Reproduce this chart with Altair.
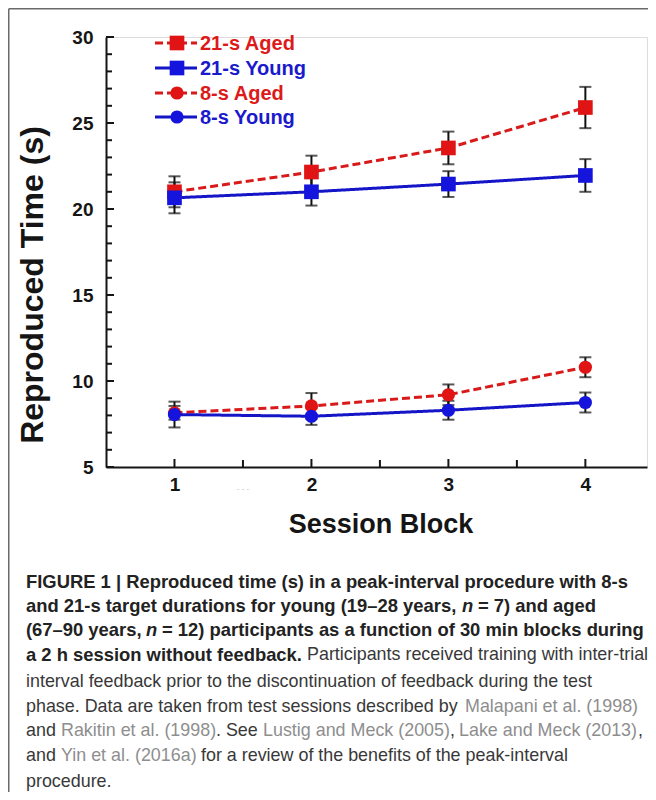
import altair as alt
import pandas as pd

# ---------------- data ----------------
blocks = [1, 2, 3, 4]
aged21 = [21.0, 22.15, 23.55, 25.9]
aged21_err = [0.9, 0.95, 0.95, 1.2]
young21 = [20.65, 21.0, 21.45, 21.95]
young21_err = [0.9, 0.8, 0.75, 0.95]
aged8 = [8.15, 8.55, 9.2, 10.8]
aged8_err = [0.4, 0.75, 0.6, 0.58]
young8 = [8.05, 7.95, 8.3, 8.75]
young8_err = [0.75, 0.5, 0.55, 0.58]

series_names = ["21-s Aged", "21-s Young", "8-s Aged", "8-s Young"]
series_values = [aged21, young21, aged8, young8]
series_errors = [aged21_err, young21_err, aged8_err, young8_err]

y_major = [5, 10, 15, 20, 25, 30]
y_minor = [6, 7, 8, 9, 11, 12, 13, 14, 16, 17, 18, 19, 21, 22, 23, 24, 26, 27, 28, 29]
x_major = [1, 2, 3, 4]
x_minor = [1.5, 2.5, 3.5]

x_title = "Session Block"
y_title = "Reproduced Time (s)"

caption_lines = [
    [("FIGURE 1 | Reproduced time (s) in a peak-interval procedure with 8-s", "b")],
    [("and 21-s target durations for young (19–28 years,", "b"), ("n", "bi"), ("= 7) and aged", "b")],
    [("(67–90 years,", "b"), ("n", "bi"), ("= 12) participants as a function of 30 min blocks during", "b")],
    [("a 2 h session without feedback.", "b"), ("Participants received training with inter-trial", "r")],
    [("interval feedback prior to the discontinuation of feedback during the test", "r")],
    [("phase. Data are taken from test sessions described by", "r"), ("Malapani et al. (1998)", "l")],
    [("and", "r"), ("Rakitin et al. (1998)", "l"), (". See", "r"), ("Lustig and Meck (2005)", "l"),
     (",", "r"), ("Lake and Meck (2013)", "l"), (",", "r")],
    [("and", "r"), ("Yin et al. (2016a)", "l"), ("for a review of the benefits of the peak-interval", "r")],
    [("procedure.", "r")],
]

# ---------------- layout / style ----------------
W, H = 541, 430
PAD = {"left": 98, "top": 29, "right": 1, "bottom": 325}
OX, OY = 106, 37  # page position of plot origin

caption_y = [582, 606, 630, 655, 682, 707, 731, 756, 782]
caption_x = [
    [26],
    [26, 462, 478],
    [26, 146, 162],
    [26, 307],
    [26],
    [26, 465],
    [26, 61, 216, 263, 450, 459, 638],
    [26, 61, 201],
    [26],
]

styles = {
    "21-s Aged": dict(color="#e01414", line="#d81a1a", shape="square", dash=[8, 4], size=215),
    "21-s Young": dict(color="#1414dd", line="#1515c8", shape="square", dash=[1, 0], size=215),
    "8-s Aged": dict(color="#e01414", line="#d81a1a", shape="circle", dash=[8, 4], size=175),
    "8-s Young": dict(color="#1414dd", line="#1515c8", shape="circle", dash=[1, 0], size=175),
}
legend_text_color = {"21-s Aged": "#dd1a1a", "21-s Young": "#1a1acc", "8-s Aged": "#dd1a1a", "8-s Young": "#1a1acc"}

FONT = "Liberation Sans"

xs = alt.Scale(domain=[0.5, 4.45], nice=False, zero=False)
ys = alt.Scale(domain=[5, 30], nice=False, zero=False)

y_axis = alt.Axis(values=y_major, title=None, ticks=False, tickSize=0, grid=False, domain=True,
                  domainColor="#151515", domainWidth=2, labelFont=FONT, labelFontWeight="bold",
                  labelFontSize=19, labelColor="#151515", labelPadding=13, labelOverlap=False)
x_axis = alt.Axis(values=x_major, title=None, ticks=False, tickSize=0, grid=False, domain=True,
                  domainColor="#151515", domainWidth=2, labelFont=FONT, labelFontWeight="bold",
                  labelFontSize=19, labelColor="#151515", labelPadding=8, labelFlush=False,
                  labelOverlap=False, format="d")


def X(field):
    return alt.X(field, scale=xs, axis=x_axis)


def Y(field):
    return alt.Y(field, scale=ys, axis=y_axis)


rows = []
for name, vals, errs in zip(series_names, series_values, series_errors):
    for b, v, e in zip(blocks, vals, errs):
        rows.append({"series": name, "block": b, "value": v, "lo": v - e, "hi": v + e})
df = pd.DataFrame(rows)

layers = []

# inward ticks
layers.append(alt.Chart(pd.DataFrame({"v": y_major})).mark_rule(color="#151515", strokeWidth=2).encode(
    y=Y("v:Q"), x=alt.value(0), x2=alt.value(8)))
layers.append(alt.Chart(pd.DataFrame({"v": y_minor})).mark_rule(color="#151515", strokeWidth=2).encode(
    y=Y("v:Q"), x=alt.value(0), x2=alt.value(6)))
layers.append(alt.Chart(pd.DataFrame({"v": x_major})).mark_rule(color="#151515", strokeWidth=2).encode(
    x=X("v:Q"), y=alt.value(H), y2=alt.value(H - 8)))
layers.append(alt.Chart(pd.DataFrame({"v": x_minor})).mark_rule(color="#151515", strokeWidth=2).encode(
    x=X("v:Q"), y=alt.value(H), y2=alt.value(H - 7)))

# error bars
for name in series_names:
    d = df[df.series == name]
    layers.append(alt.Chart(d).mark_rule(color="#111111", strokeWidth=2).encode(
        x=X("block:Q"), y=Y("lo:Q"), y2="hi:Q"))
    for f in ["lo", "hi"]:
        layers.append(alt.Chart(d).mark_tick(color="#111111", thickness=2, size=12, orient="horizontal").encode(
            x=X("block:Q"), y=Y(f"{f}:Q")))

# lines and markers (aged first, young on top)
for name in series_names:
    st = styles[name]
    d = df[df.series == name]
    layers.append(alt.Chart(d).mark_line(color=st["line"], strokeWidth=3, strokeDash=st["dash"]).encode(
        x=X("block:Q"), y=Y("value:Q")))
for name in series_names:
    st = styles[name]
    d = df[df.series == name]
    layers.append(alt.Chart(d).mark_point(filled=True, opacity=1, shape=st["shape"], size=st["size"],
                                          color=st["color"]).encode(
        x=X("block:Q"), y=Y("value:Q")))

# legend
legend_rows_y = [43, 68, 93, 117]
for name, py in zip(series_names, legend_rows_y):
    st = styles[name]
    ldf = pd.DataFrame({"t": [name]})
    y0 = py - OY
    layers.append(alt.Chart(ldf).mark_rule(color=st["line"], strokeWidth=3, strokeDash=st["dash"]).encode(
        x=alt.value(155 - OX), x2=alt.value(197 - OX), y=alt.value(y0)))
    layers.append(alt.Chart(ldf).mark_point(filled=True, opacity=1, shape=st["shape"], size=st["size"],
                                            color=st["color"]).encode(
        x=alt.value(177 - OX), y=alt.value(y0)))
    layers.append(alt.Chart(ldf).mark_text(align="left", baseline="middle", font=FONT, fontWeight="bold",
                                           fontSize=20, color=legend_text_color[name]).encode(
        x=alt.value(200 - OX), y=alt.value(y0 + 1), text="t:N"))

# axis titles
layers.append(alt.Chart(pd.DataFrame({"t": [x_title]})).mark_text(
    align="center", baseline="middle", font=FONT, fontWeight="bold", fontSize=27, color="#151515").encode(
    x=alt.value(381 - OX), y=alt.value(525 - OY), text="t:N"))
layers.append(alt.Chart(pd.DataFrame({"t": [y_title]})).mark_text(
    align="center", baseline="middle", font=FONT, fontWeight="bold", fontSize=32, angle=270,
    color="#151515").encode(
    x=alt.value(33 - OX), y=alt.value(285 - OY), text="t:N"))

# faint artifact below axis
layers.append(alt.Chart(pd.DataFrame({"t": ["- - -"]})).mark_text(
    align="center", baseline="middle", font=FONT, fontSize=8, color="#c4c4c4").encode(
    x=alt.value(243 - OX), y=alt.value(489 - OY), text="t:N"))

# frame
fdf = pd.DataFrame({"a": [0]})
layers.append(alt.Chart(fdf).mark_rule(color="#6a6a6a", strokeWidth=1.5).encode(
    x=alt.value(-PAD["left"] + 0.75), x2=alt.value(W + PAD["right"]),
    y=alt.value(-PAD["top"] + 0.75)))
layers.append(alt.Chart(fdf).mark_rule(color="#6a6a6a", strokeWidth=1.5).encode(
    x=alt.value(-PAD["left"] + 0.75),
    y=alt.value(-PAD["top"] + 0.75), y2=alt.value(H + PAD["bottom"])))

# caption
cstyle = {
    "b": dict(fontWeight="bold", fontStyle="normal", color="#222222", size=18.4),
    "bi": dict(fontWeight="bold", fontStyle="italic", color="#222222", size=18.4),
    "r": dict(fontWeight="normal", fontStyle="normal", color="#383838", size=17.9),
    "l": dict(fontWeight="normal", fontStyle="normal", color="#8e8e8e", size=17.9),
}
for segs, xs_px, py in zip(caption_lines, caption_x, caption_y):
    for (txt, sk), px in zip(segs, xs_px):
        s = cstyle[sk]
        layers.append(alt.Chart(pd.DataFrame({"t": [txt]})).mark_text(
            align="left", baseline="middle", font=FONT, fontSize=s["size"],
            fontWeight=s["fontWeight"], fontStyle=s["fontStyle"], color=s["color"]).encode(
            x=alt.value(px - OX), y=alt.value(py - OY), text="t:N"))

chart = alt.layer(*layers).properties(
    width=W, height=H,
    autosize=alt.AutoSizeParams(type="none"),
    padding=PAD,
).configure_view(stroke=None).configure(background="white")

chart.save("out.html", embed_options={"renderer": "svg", "actions": False})
